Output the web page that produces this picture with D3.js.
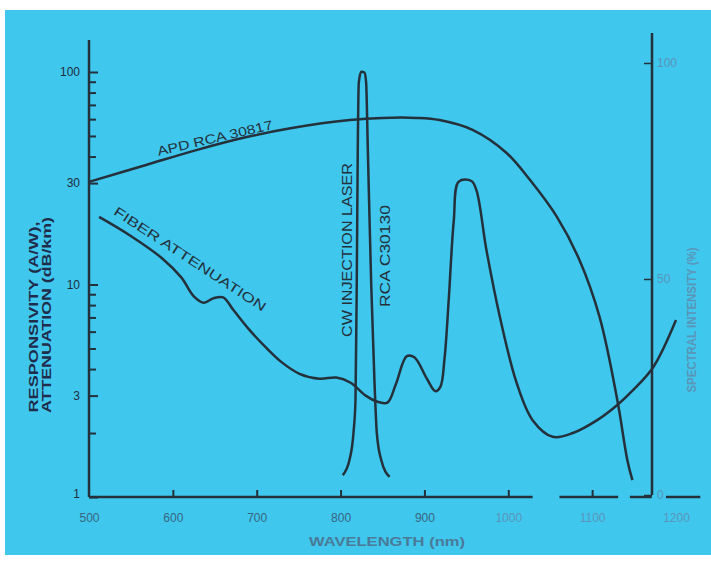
<!DOCTYPE html>
<html>
<head>
<meta charset="utf-8">
<script src="https://cdn.jsdelivr.net/npm/d3@7"></script>
<style>
  body { margin: 0; background: #fff; }
  svg { display: block; }
  text { font-family: "Liberation Sans", Arial, sans-serif; }
</style>
</head>
<body>
<div id="chart"></div>
<script>
// APD RCA 30817 responsivity (A/W), left log axis
var apdNm   = [500, 568, 628, 688, 742, 811, 850, 891, 918, 958, 998, 1026, 1058, 1085, 1109, 1130, 1142, 1148];
var apdResp = [30.4, 36.5, 42.9, 49.4, 54.5, 59.4, 60.8, 60.8, 59.4, 53.3, 41.6, 31.0, 20.8, 13.0, 7.0, 2.86, 1.49, 1.2];

// fiber attenuation (dB/km), left log axis
var fiberNm  = [512, 548, 587, 610, 625, 637, 648, 660, 672, 690, 710, 730, 751, 775, 795, 812, 830, 845, 856, 866, 879, 888, 903, 913, 919, 924, 929, 935, 941, 956, 962, 974, 990, 1010, 1029, 1053, 1077, 1106, 1130, 1149, 1173, 1200];
var fiberAtt = [20.8, 17.1, 13.3, 10.8, 8.8, 8.2, 8.6, 8.7, 7.6, 6.2, 5.1, 4.3, 3.8, 3.6, 3.65, 3.45, 3.0, 2.8, 2.78, 3.4, 4.6, 4.55, 3.6, 3.15, 3.3, 4.5, 8.5, 20, 30.5, 30.7, 27.8, 14.5, 7.03, 3.44, 2.30, 1.92, 2.0, 2.30, 2.71, 3.19, 4.09, 6.8];

// CW injection laser RCA C30130 spectral intensity (%), right axis
var laserNm  = [802.6, 810.6, 815.4, 817.8, 819.3, 820.5, 821.7, 824.6, 828.5, 830.5, 832.5, 836.5, 840.5, 843.2, 848.5, 858.4];
var laserPct = [4.6, 8.1, 14.4, 22, 49, 79.9, 95.4, 98, 97.8, 95.4, 79.9, 49, 25.9, 14.4, 8.1, 4.2];

// ticks
var leftTicks  = [1, 3, 10, 30, 100];
var leftMinor  = [2, 4, 5, 6, 7, 8, 9, 40, 50, 60, 70, 80, 90];
var xLabels    = [500, 600, 700, 800, 900, 1000, 1100, 1200];
var xTickMarks = [600, 700, 800, 900, 1000, 1100];
var rightTicks = [0, 50, 100];
// pieces of the broken wavelength axis
var xSegments  = [[500, 1029], [1061, 1131], [1145, 1171], [1188, 1229]];

var W = 711, H = 562;
var ink = "#24303a", bg = "#3fc7ee";
var axisLeftX = 89, axisRightX = 652, baseY = 497;

var svg = d3.select("#chart").append("svg")
  .attr("width", W)
  .attr("height", H);

svg.append("rect")
  .attr("x", 5).attr("y", 10)
  .attr("width", W - 5).attr("height", 545)
  .attr("fill", bg);

var x = d3.scaleLinear().domain([500, 1200]).range([axisLeftX, 676]);
var yL = d3.scaleLog().domain([1, 100]).range([baseY, 72]);
var yR = d3.scaleLinear().domain([0, 100]).range([495, 63]);

// left axis
svg.append("line")
  .attr("x1", axisLeftX).attr("x2", axisLeftX)
  .attr("y1", 40).attr("y2", baseY)
  .attr("stroke", ink).attr("stroke-width", 2.5);

var gl = svg.append("g")
  .attr("transform", "translate(" + axisLeftX + ",0)")
  .call(d3.axisLeft(yL).tickValues(leftTicks).tickFormat(d3.format("d"))
    .tickSizeInner(-9).tickSizeOuter(0).tickPadding(9));
gl.select(".domain").remove();
gl.selectAll("line").attr("stroke", ink).attr("stroke-width", 2);
gl.selectAll("text").attr("fill", "#1f2d3d").attr("font-size", 12);
gl.selectAll(".tick").filter(function(d) { return d === 1; }).select("text").attr("dy", "0");

var glm = svg.append("g")
  .attr("transform", "translate(" + axisLeftX + ",0)")
  .call(d3.axisLeft(yL).tickValues(leftMinor).tickFormat("")
    .tickSizeInner(-7).tickSizeOuter(0));
glm.select(".domain").remove();
glm.selectAll("line").attr("stroke", ink).attr("stroke-width", 2);

// right axis
svg.append("line")
  .attr("x1", axisRightX).attr("x2", axisRightX)
  .attr("y1", 33).attr("y2", 495)
  .attr("stroke", ink).attr("stroke-width", 2.5);

var gr = svg.append("g")
  .attr("transform", "translate(" + axisRightX + ",0)")
  .call(d3.axisRight(yR).tickValues(rightTicks)
    .tickSizeInner(-8).tickSizeOuter(0).tickPadding(5));
gr.select(".domain").remove();
gr.selectAll("line").attr("stroke", ink).attr("stroke-width", 1.5);
gr.selectAll("text").attr("fill", "#5b95b8").attr("font-size", 12);

// x axis (broken baseline)
svg.selectAll(".xseg")
  .data(xSegments)
  .enter().append("line")
  .attr("class", "xseg")
  .attr("x1", function(d) { return x(d[0]); })
  .attr("x2", function(d) { return x(d[1]); })
  .attr("y1", baseY).attr("y2", baseY)
  .attr("stroke", ink).attr("stroke-width", 2.5);

var gx = svg.append("g")
  .attr("transform", "translate(0," + baseY + ")")
  .call(d3.axisBottom(x).tickValues(xTickMarks).tickFormat("")
    .tickSizeInner(-7).tickSizeOuter(0));
gx.select(".domain").remove();
gx.selectAll("line").attr("stroke", ink).attr("stroke-width", 2);

var gxl = svg.append("g")
  .attr("transform", "translate(0," + baseY + ")")
  .call(d3.axisBottom(x).tickValues(xLabels).tickFormat(d3.format("d"))
    .tickSize(0).tickPadding(16));
gxl.select(".domain").remove();
gxl.selectAll("text")
  .attr("font-size", 12)
  .attr("fill", function(d) { return d >= 1000 ? "#5b95b8" : "#3a6580"; });

// curves
var lineL = d3.line()
  .x(function(d) { return x(d[0]); })
  .y(function(d) { return yL(d[1]); })
  .curve(d3.curveCatmullRom.alpha(0.5));

var lineR = d3.line()
  .x(function(d) { return x(d[0]); })
  .y(function(d) { return yR(d[1]); })
  .curve(d3.curveMonotoneX);

svg.append("path")
  .datum(d3.zip(apdNm, apdResp))
  .attr("d", lineL)
  .attr("fill", "none").attr("stroke", ink).attr("stroke-width", 2.5);

svg.append("path")
  .datum(d3.zip(fiberNm, fiberAtt))
  .attr("d", lineL)
  .attr("fill", "none").attr("stroke", ink).attr("stroke-width", 2.5);

svg.append("path")
  .datum(d3.zip(laserNm, laserPct))
  .attr("d", lineR)
  .attr("fill", "none").attr("stroke", ink).attr("stroke-width", 2.5);

// labels
function label(txt, cx, cy, rot, len, size, color, weight) {
  svg.append("text")
    .attr("transform", "translate(" + cx + "," + cy + ") rotate(" + rot + ")")
    .attr("text-anchor", "middle")
    .attr("dominant-baseline", "central")
    .attr("font-size", size)
    .attr("font-weight", weight || "normal")
    .attr("fill", color)
    .attr("textLength", len)
    .attr("lengthAdjust", "spacingAndGlyphs")
    .text(txt);
}

label("APD RCA 30817", 215, 138, -13.2, 118, 13, ink);
label("FIBER ATTENUATION", 190, 259, 33.2, 179, 13, ink);
label("CW INJECTION LASER", 347, 250, -90, 174, 14, ink);
label("RCA C30130", 385, 256, -90, 102, 14, ink);

label("RESPONSIVITY (A/W),", 33, 317, -90, 191, 13, "#1f2d4a", "bold");
label("ATTENUATION (dB/km)", 46, 315, -90, 196, 13, "#1f2d4a", "bold");
label("SPECTRAL INTENSITY (%)", 692, 320, -90, 145, 12, "#5b95b8", "bold");
label("WAVELENGTH (nm)", 387, 542, 0, 156, 12, "#4a7a98", "bold");
</script>
</body>
</html>
